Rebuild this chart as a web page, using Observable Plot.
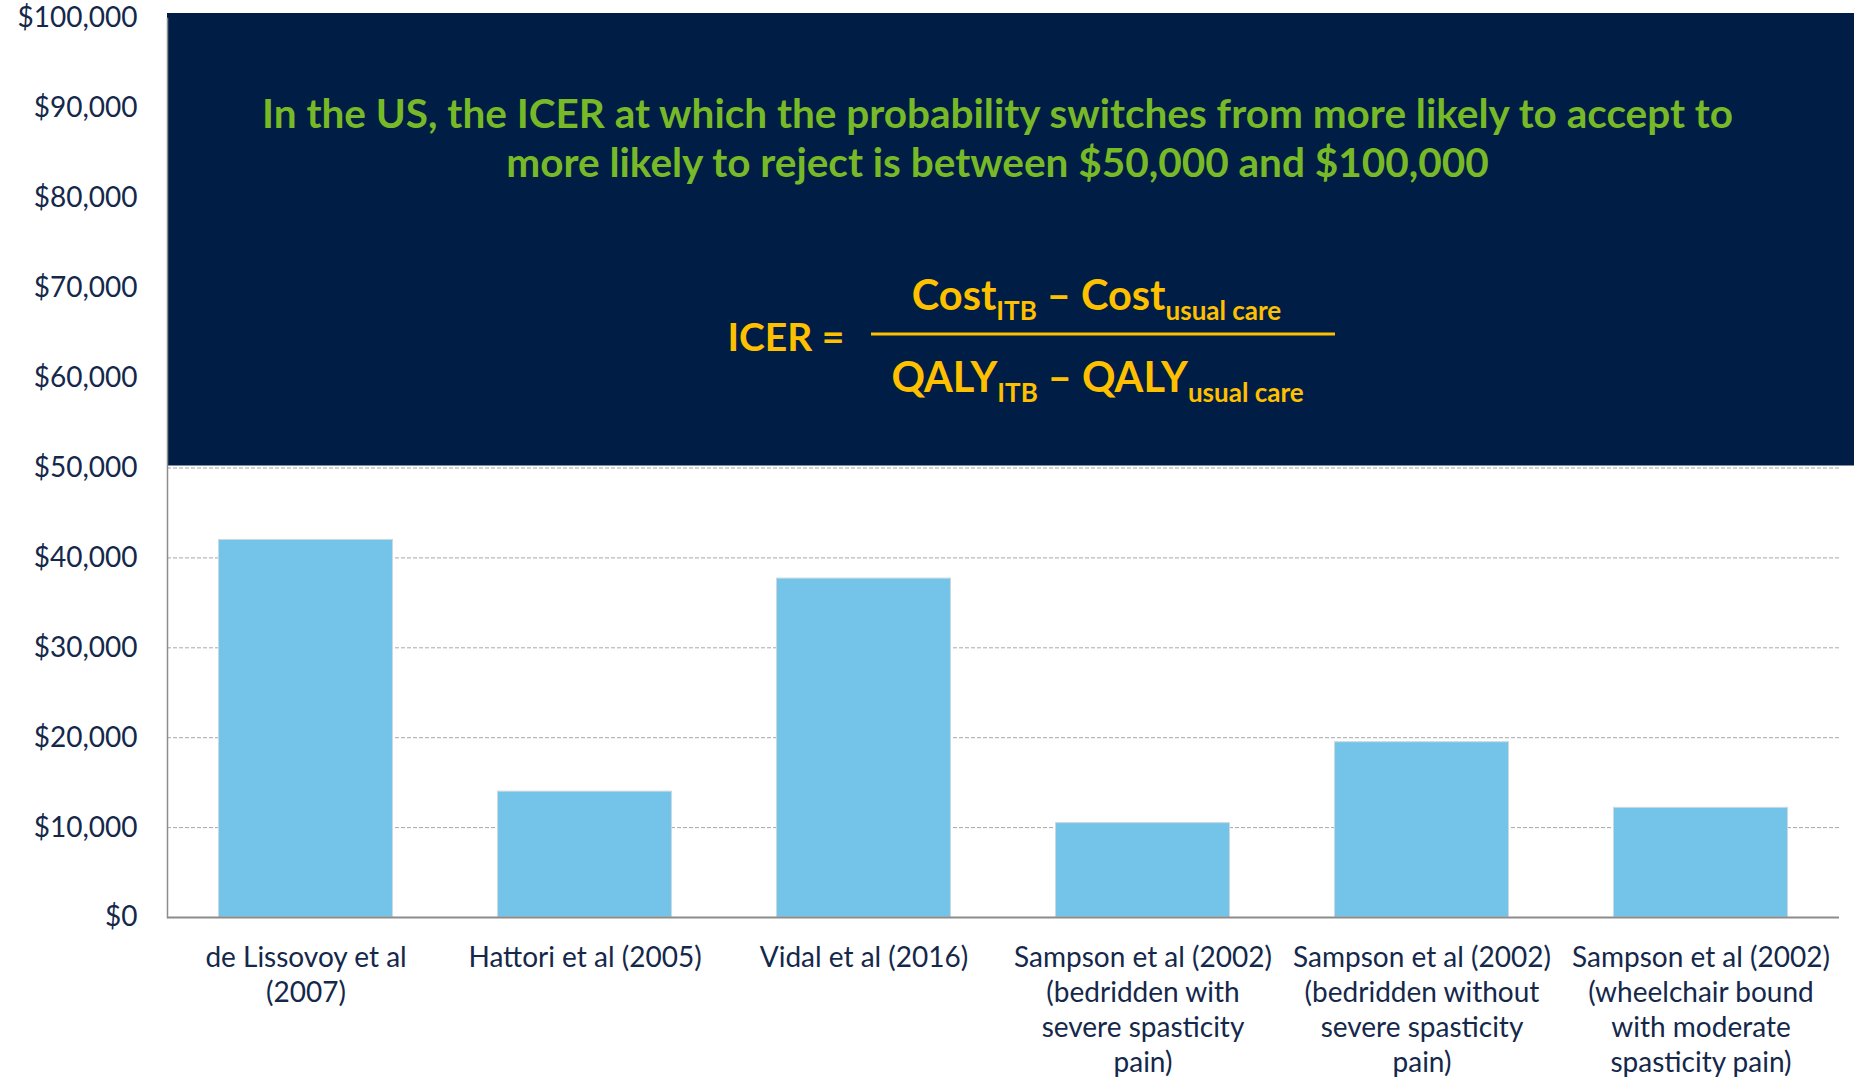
<!DOCTYPE html>
<html>
<head>
<meta charset="utf-8">
<script src="https://cdn.jsdelivr.net/npm/d3@7"></script>
<script src="https://cdn.jsdelivr.net/npm/@observablehq/plot@0.6"></script>
<style>
  html, body { margin: 0; padding: 0; background: #ffffff; }
  #chart svg { display: block; }
</style>
</head>
<body>
<div id="chart"></div>
<script>
// ---- data ----
const categories = [
  "de Lissovoy et al\n(2007)",
  "Hattori et al (2005)",
  "Vidal et al (2016)",
  "Sampson et al (2002)\n(bedridden with\nsevere spasticity\npain)",
  "Sampson et al (2002)\n(bedridden without\nsevere spasticity\npain)",
  "Sampson et al (2002)\n(wheelchair bound\nwith moderate\nspasticity pain)"
];
const icerValues = [42000, 14000, 37700, 10500, 19500, 12200];
const yTicks = [0, 10000, 20000, 30000, 40000, 50000, 60000, 70000, 80000, 90000, 100000];
const thresholdBand = [{low: 50000, high: 100000}];
const titleText = "In the US, the ICER at which the probability switches from more likely to accept to\nmore likely to reject is between $50,000 and $100,000";
const formulaLeft = ["ICER ="];
const formulaNumerator = ["Cost_{ITB} – Cost_{usual care}"];
const formulaDenominator = ["QALY_{ITB} – QALY_{usual care}"];
const fractionBar = [64900];

const data = categories.map((c, i) => ({study: c, icer: icerValues[i]}));

const navy = "#14284b";
const fmt = d => "$" + d3.format(",")(d);

const chart = Plot.plot({
  width: 1854,
  height: 1078,
  marginLeft: 167,
  marginRight: 15,
  marginTop: 18,
  marginBottom: 161,
  style: {fontFamily: "Lato, sans-serif", background: "#ffffff", overflow: "visible"},
  x: {domain: categories, paddingInner: 0.376, paddingOuter: 0.1845, round: false, label: null},
  y: {domain: [0, 100000], label: null},
  marks: [
    Plot.gridY(yTicks, {stroke: "#a8a8a8", strokeOpacity: 1, strokeDasharray: "4,2"}),
    Plot.barY(data, {x: "study", y: "icer", fill: "#73c4e8", stroke: "#cdd9de", strokeWidth: 1}),
    Plot.rect(thresholdBand, {y1: "low", y2: "high", fill: "#001e45", insetTop: -5, insetBottom: 2, insetRight: -15}),
    Plot.ruleY([0], {stroke: "#8c8c8c", strokeWidth: 2}),
    Plot.frame({anchor: "left", stroke: "#8c8c8c", strokeWidth: 1.5}),
    Plot.axisY({ticks: yTicks, tickFormat: fmt, tickSize: 0, tickPadding: 30, fontSize: 28, color: navy}),
    Plot.axisX({tickSize: 0, tickPadding: 24, fontSize: 28, lineHeight: 1.26, color: navy}),
    Plot.text([titleText], {
      text: d => d, frameAnchor: "top", lineAnchor: "top", dx: -6, dy: 75,
      fontSize: 40.5, fontWeight: 700, fill: "#78b928", lineHeight: 1.2
    }),
    Plot.text(formulaLeft, {
      text: d => d, frameAnchor: "top-left", lineAnchor: "middle", textAnchor: "start",
      dx: 560, dy: 320, fontSize: 39, fontWeight: 700, fill: "#ffc000"
    }),
    Plot.text(formulaNumerator, {
      text: d => d, frameAnchor: "top-left", lineAnchor: "middle", textAnchor: "middle",
      dx: 929, dy: 278, fontSize: 41.5, fontWeight: 700, fill: "#ffc000"
    }),
    Plot.text(formulaDenominator, {
      text: d => d, frameAnchor: "top-left", lineAnchor: "middle", textAnchor: "middle",
      dx: 930, dy: 360, fontSize: 41.5, fontWeight: 700, fill: "#ffc000"
    }),
    Plot.ruleY(fractionBar, {stroke: "#ffc000", strokeWidth: 3, insetLeft: 704, insetRight: 504})
  ]
});

// subscripts in the formula
d3.select(chart).selectAll("text").each(function () {
  const t = this.textContent;
  if (!t.includes("_{")) return;
  const parts = t.split(/(_\{[^}]*\})/).filter(p => p);
  this.textContent = "";
  let inSub = false;
  for (const p of parts) {
    const ts = d3.select(this).append("tspan");
    if (p.startsWith("_{")) {
      ts.text(p.slice(2, -1)).attr("font-size", 26).attr("dy", inSub ? 0 : 10);
      inSub = true;
    } else {
      ts.text(p).attr("dy", inSub ? -10 : 0);
      inSub = false;
    }
  }
});

document.getElementById("chart").appendChild(chart);
</script>
</body>
</html>
